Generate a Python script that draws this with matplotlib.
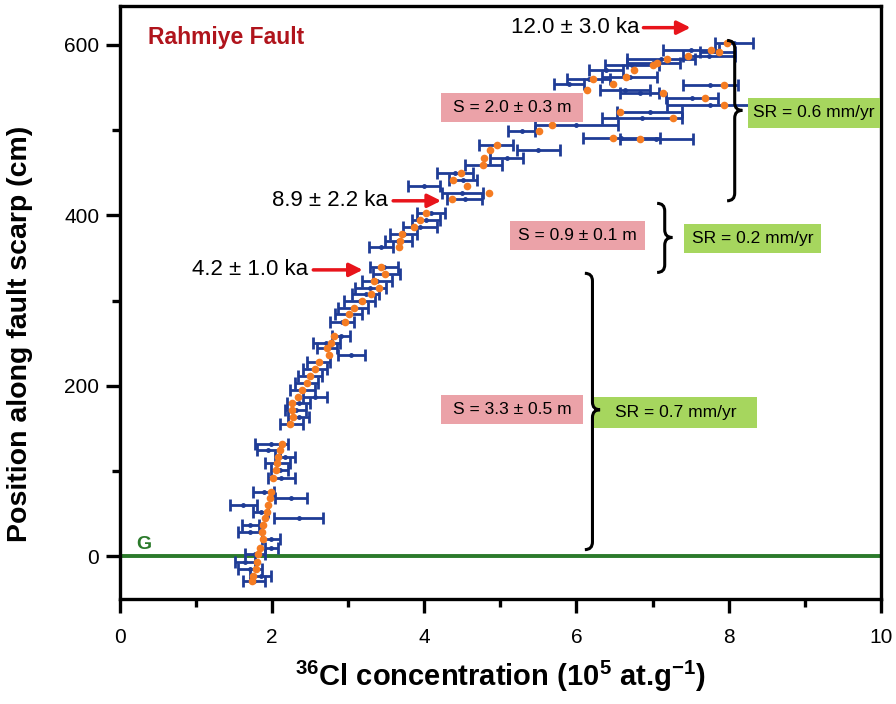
import matplotlib
matplotlib.use("Agg")
import matplotlib.pyplot as plt
from matplotlib.path import Path
from matplotlib.patches import PathPatch, Rectangle

plt.rcParams['font.family'] = ['Liberation Sans', 'DejaVu Sans']
plt.rcParams['mathtext.fontset'] = 'custom'
plt.rcParams['mathtext.rm'] = 'Liberation Sans:bold'
plt.rcParams['mathtext.bf'] = 'Liberation Sans:bold'
plt.rcParams['mathtext.it'] = 'Liberation Sans:bold'

# position along scarp (cm)
position = [602.3, 594.2, 591.8, 587.1, 583.6, 578.9, 576.6, 570.8, 562.6, 560.2,
            554.4, 553.2, 547.4, 543.9, 538.0, 529.8, 521.6, 513.5, 505.3, 499.4,
            491.2, 488.9, 481.9, 476.0, 466.7, 458.5, 449.1, 440.9, 433.9, 425.7,
            418.7, 402.3, 394.2, 386.0, 377.8, 369.6, 362.6, 339.2, 331.0, 322.8,
            314.6, 307.6, 299.4, 291.2, 284.2, 274.9, 258.5, 250.3, 244.4, 236.3,
            228.1, 219.9, 211.7, 203.5, 195.3, 187.1, 180.1, 171.9, 163.7, 155.6,
            132.2, 125.1, 117.0, 109.9, 101.8, 92.4, 76.0, 69.0, 60.8, 52.6,
            45.6, 37.4, 29.2, 19.9, 10.5, 2.3, -7.0, -15.2, -23.4, -29.2]
# measured 36Cl concentration (1e5 at/g) and 1-sigma uncertainty
cl_measured = [8.07, 7.51, 7.85, 7.74, 7.11, 7.01, 6.73, 6.39, 6.70, 6.16,
               5.90, 7.76, 6.64, 6.83, 7.52, 7.75, 6.96, 6.86, 6.00, 5.28,
               6.59, 7.05, 4.94, 5.50, 5.08, 4.78, 4.40, 4.51, 3.99, 4.50,
               4.53, 4.09, 4.02, 3.94, 3.73, 3.66, 3.43, 3.47, 3.50, 3.38,
               3.29, 3.23, 3.15, 3.06, 3.00, 2.92, 2.90, 2.71, 2.72, 3.04,
               2.61, 2.56, 2.50, 2.45, 2.40, 2.56, 2.35, 2.31, 2.35, 2.25,
               1.99, 1.95, 2.17, 2.07, 2.10, 2.12, 1.89, 2.25, 1.62, 1.85,
               2.35, 1.71, 1.71, 1.98, 1.99, 1.77, 1.64, 1.71, 1.85, 1.76]
cl_error = [0.25, 0.37, 0.23, 0.34, 0.45, 0.35, 0.36, 0.22, 0.36, 0.28,
            0.20, 0.36, 0.33, 0.26, 0.34, 0.56, 0.43, 0.53, 0.55, 0.18,
            0.51, 0.48, 0.22, 0.28, 0.22, 0.24, 0.24, 0.18, 0.21, 0.27,
            0.23, 0.18, 0.18, 0.22, 0.18, 0.18, 0.16, 0.18, 0.18, 0.20,
            0.20, 0.18, 0.20, 0.20, 0.18, 0.16, 0.12, 0.18, 0.13, 0.18,
            0.15, 0.16, 0.16, 0.15, 0.16, 0.16, 0.15, 0.14, 0.14, 0.15,
            0.22, 0.15, 0.13, 0.16, 0.11, 0.18, 0.14, 0.21, 0.18, 0.10,
            0.32, 0.11, 0.16, 0.12, 0.09, 0.13, 0.13, 0.16, 0.14, 0.14]
# modelled concentration (orange)
cl_model = [7.98, 7.77, 7.87, 7.46, 7.19, 7.06, 7.00, 6.75, 6.65, 6.22,
            6.48, 7.94, 6.14, 7.14, 7.69, 7.94, 6.57, 7.27, 5.68, 5.51,
            6.48, 6.83, 4.95, 4.86, 4.78, 4.77, 4.48, 4.38, 4.56, 4.85,
            4.36, 4.02, 3.94, 3.86, 3.71, 3.68, 3.67, 3.43, 3.48, 3.34,
            3.40, 3.30, 3.18, 3.07, 3.01, 2.96, 2.81, 2.77, 2.72, 2.75,
            2.61, 2.56, 2.50, 2.46, 2.39, 2.34, 2.26, 2.26, 2.27, 2.23,
            2.13, 2.10, 2.08, 2.06, 2.05, 2.01, 1.98, 1.97, 1.94, 1.93,
            1.91, 1.88, 1.87, 1.88, 1.84, 1.81, 1.80, 1.79, 1.75, 1.73]

x_ticks = [0, 2, 4, 6, 8, 10]
y_ticks = [0, 200, 400, 600]

age_labels = ['12.0 ± 3.0 ka', '8.9 ± 2.2 ka', '4.2 ± 1.0 ka']
slip_labels = ['S = 2.0 ± 0.3 m', 'S = 0.9 ± 0.1 m', 'S = 3.3 ± 0.5 m']
rate_labels = ['SR = 0.6 mm/yr', 'SR = 0.2 mm/yr', 'SR = 0.7 mm/yr']

fig = plt.figure(figsize=(8.96, 7.04), dpi=100)
ax = fig.add_axes([0.134, 0.149, 0.849, 0.842])

ax.errorbar(cl_measured, position, xerr=cl_error, fmt='o', color='#1f3c96',
            ms=2.5, elinewidth=2.0, capsize=4, capthick=2.0, zorder=3)
ax.plot(cl_model, position, 'o', color='#f57c22', ms=5.5, mec='none', zorder=4)

ax.axhline(0, color='#2b7a2b', lw=2.8, zorder=2)
ax.text(0.21, 14, 'G', color='#2b7a2b', fontsize=14, fontweight='bold',
        va='center', ha='left')

ax.set_xlim(0, 10)
ax.set_ylim(-50, 645)
ax.set_xticks(x_ticks)
ax.set_xticks([1, 3, 5, 7, 9], minor=True)
ax.set_yticks(y_ticks)
ax.set_yticks([100, 300, 500], minor=True)
ax.tick_params(axis='both', which='major', direction='out', length=10, width=2.4, labelsize=15)
ax.tick_params(axis='both', which='minor', direction='out', length=6, width=2.4)
ax.tick_params(axis='x', pad=11)
ax.tick_params(axis='y', pad=5)
for s in ax.spines.values():
    s.set_linewidth(2.4)

ax.set_xlabel(r'$^{36}$Cl concentration (10$^{5}$ at.g$^{-1}$)', fontsize=21,
              fontweight='bold', labelpad=8)
ax.set_ylabel('Position along fault scarp (cm)', fontsize=20.5, fontweight='bold')
ax.yaxis.set_label_coords(-0.115, 0.448)

ax.text(0.37, 608, 'Rahmiye Fault', color='#b0141c', fontsize=16.5, fontweight='bold',
        va='center', ha='left')

# age annotations
for label, xt, yt, x0, x1 in zip(age_labels, [6.83, 3.52, 2.47], [620, 417, 336],
                                 [6.88, 3.59, 2.54], [7.50, 4.22, 3.19]):
    ax.text(xt, yt, label, fontsize=16, ha='right', va='center')
    ax.annotate('', xy=(x1, yt), xytext=(x0, yt),
                arrowprops=dict(arrowstyle='-|>', color='#e8141b', lw=2.5,
                                mutation_scale=20, shrinkA=0, shrinkB=0))

pink = '#eba2a8'
green = '#a6d65e'
boxes = [(slip_labels[0], 4.22, 6.08, 509, 543, pink),
         (slip_labels[1], 5.12, 6.90, 359, 393, pink),
         (slip_labels[2], 4.22, 6.08, 155.5, 189.5, pink),
         (rate_labels[0], 8.25, 9.99, 502, 538, green),
         (rate_labels[1], 7.41, 9.22, 355.5, 389.5, green),
         (rate_labels[2], 6.23, 8.37, 151, 187, green)]
for label, x0, x1, y0, y1, col in boxes:
    ax.add_patch(Rectangle((x0, y0), x1 - x0, y1 - y0, fc=col, ec='none', zorder=5))
    ax.text((x0 + x1) / 2, (y0 + y1) / 2, label, fontsize=12.5, ha='center',
            va='center', zorder=6)


def brace(x0, ytop, ybot, ymid, w=0.1, h=9):
    verts = [(x0 - w, ytop), (x0, ytop), (x0, ytop - h),
             (x0, ymid + h), (x0, ymid), (x0 + w, ymid),
             (x0, ymid), (x0, ymid - h),
             (x0, ybot + h), (x0, ybot), (x0 - w, ybot)]
    codes = [Path.MOVETO, Path.CURVE3, Path.CURVE3,
             Path.LINETO, Path.CURVE3, Path.CURVE3,
             Path.CURVE3, Path.CURVE3,
             Path.LINETO, Path.CURVE3, Path.CURVE3]
    ax.add_patch(PathPatch(Path(verts, codes), fc='none', ec='black', lw=2.2,
                           zorder=7))


brace(8.08, 605, 417, 523)
brace(7.16, 414, 333, 374)
brace(6.21, 332, 8, 172)

fig.savefig('out.png', dpi=100)
